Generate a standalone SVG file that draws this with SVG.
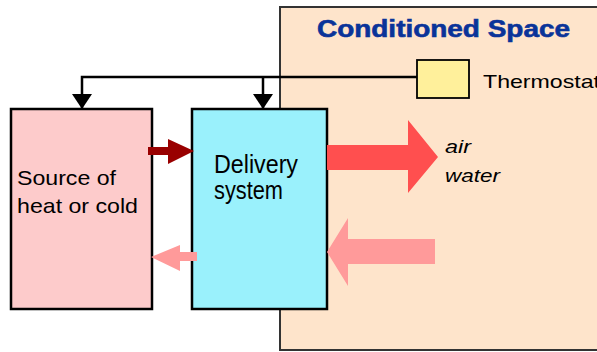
<svg xmlns="http://www.w3.org/2000/svg" width="597" height="352" viewBox="0 0 597 352">
  <defs>
    <marker id="ctrlHead" markerUnits="userSpaceOnUse" markerWidth="16" markerHeight="20" refX="15" refY="10" orient="auto" viewBox="0 0 16 20">
      <path d="M0,0 L15,10 L0,20 Z" fill="#000"/>
    </marker>
  </defs>
  <style>
    .lbl { font-family: "Liberation Sans", Arial, sans-serif; fill: #000; }
    .box { stroke: #000; stroke-width: 2.5; }
    .ctrl { fill: none; stroke: #000; stroke-width: 2.5; }
  </style>
  <rect width="597" height="352" fill="#fff"/>

  <g id="conditioned-space">
    <rect x="280" y="7" width="330" height="343" fill="#FEE4CB" stroke="#333" stroke-width="2"/>
    <text x="317" y="37" font-family="Liberation Sans, Arial, sans-serif" font-weight="bold" font-size="24" fill="#0A3399" stroke="#0A3399" stroke-width="0.6" textLength="253" lengthAdjust="spacingAndGlyphs">Conditioned Space</text>
  </g>

  <g id="thermostat">
    <rect x="417" y="60" width="52" height="38" fill="#FFF09B" stroke="#000" stroke-width="1.8"/>
    <text class="lbl" x="483" y="88" font-size="19" textLength="117" lengthAdjust="spacingAndGlyphs">Thermostat</text>
  </g>

  <g id="source">
    <rect class="box" x="11" y="109" width="141" height="200" fill="#FDCBCB"/>
    <text class="lbl" x="17" y="185" font-size="21" textLength="99" lengthAdjust="spacingAndGlyphs">Source of</text>
    <text class="lbl" x="17" y="213" font-size="21" textLength="121" lengthAdjust="spacingAndGlyphs">heat or cold</text>
  </g>

  <g id="delivery">
    <rect class="box" x="192" y="109" width="135" height="200" fill="#9AF1FC"/>
    <text class="lbl" x="214" y="173" font-size="25" textLength="84" lengthAdjust="spacingAndGlyphs">Delivery</text>
    <text class="lbl" x="214" y="199" font-size="25" textLength="69" lengthAdjust="spacingAndGlyphs">system</text>
  </g>

  <g id="medium-label">
    <text class="lbl" x="445" y="153" font-size="19" font-style="italic" textLength="26" lengthAdjust="spacingAndGlyphs">air</text>
    <text class="lbl" x="445" y="182" font-size="19" font-style="italic" textLength="55" lengthAdjust="spacingAndGlyphs">water</text>
  </g>

  <g id="connectors">
    <path class="ctrl" d="M417,77 H82 V109" marker-end="url(#ctrlHead)"/>
    <path class="ctrl" d="M263,77 V109" marker-end="url(#ctrlHead)"/>
    <polygon fill="#990000" points="148,147 168,147 168,139 194,151 168,164 168,155 148,155"/>
    <polygon fill="#FF4F4F" points="327,145 408,145 408,120 438,157 408,193 408,170 327,170"/>
    <polygon fill="#FF9A9A" points="435,239 348,239 348,218 327,252 348,286 348,264 435,264"/>
    <polygon fill="#FF9A9A" points="197,252 180,252 180,245 151,257 180,271 180,261 197,261"/>
  </g>
</svg>
